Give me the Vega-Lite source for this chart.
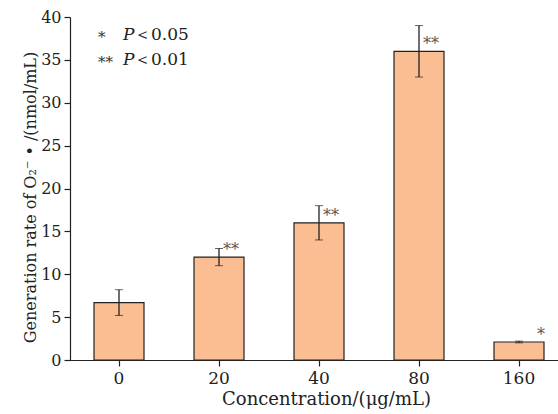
{
  "$schema": "https://vega.github.io/schema/vega-lite/v6.json",
  "autosize": {"type": "none"},
  "padding": {"left": 70, "top": 17, "right": 0, "bottom": 54},
  "width": 488,
  "height": 343,
  "background": "white",
  "config": {
    "view": {"stroke": null},
    "font": "DejaVu Serif",
    "text": {"font": "DejaVu Serif"},
    "axis": {
      "domainColor": "#222",
      "tickColor": "#222",
      "labelColor": "#222",
      "titleColor": "#222",
      "labelFont": "DejaVu Serif",
      "titleFont": "DejaVu Serif",
      "labelFontSize": 16,
      "titleFontSize": 16,
      "titleFontWeight": "normal",
      "grid": false,
      "tickSize": 6,
      "domainWidth": 1.2,
      "tickWidth": 1.2
    }
  },
  "datasets": {
    "bars": [
      {"conc": "0", "rate": 6.7, "sd": 1.5, "sig": ""},
      {"conc": "20", "rate": 12.0, "sd": 1.0, "sig": "**"},
      {"conc": "40", "rate": 16.0, "sd": 2.0, "sig": "**"},
      {"conc": "80", "rate": 36.0, "sd": 3.0, "sig": "**"},
      {"conc": "160", "rate": 2.1, "sd": 0.1, "sig": "*"}
    ],
    "notes": [
      {"conc": "0", "rate": 37.9, "star": "*", "p": "P", "txt": "＜0.05"},
      {"conc": "0", "rate": 35.0, "star": "**", "p": "P", "txt": "＜0.01"}
    ]
  },
  "encoding": {
    "x": {
      "field": "conc",
      "type": "nominal",
      "sort": ["0", "20", "40", "80", "160"],
      "scale": {"range": [-1, 499], "paddingInner": 0.5, "paddingOuter": 0.25},
      "axis": {"title": "Concentration/(μg/mL)", "labelAngle": 0, "labelPadding": 4, "labelFontSize": 17, "titleFontSize": 18, "titlePadding": 4, "titleX": 256}
    },
    "y": {
      "field": "rate",
      "type": "quantitative",
      "title": "Generation rate of O₂⁻ • /(nmol/mL)",
      "scale": {"domain": [0, 40], "nice": false},
      "axis": {"values": [0, 5, 10, 15, 20, 25, 30, 35, 40], "titlePadding": 2, "labelPadding": 3, "titleY": 180}
    }
  },
  "layer": [
    {
      "data": {"name": "bars"},
      "mark": {"type": "bar", "fill": "#FBBE93", "stroke": "#222", "strokeWidth": 1.2}
    },
    {
      "data": {"name": "bars"},
      "mark": {"type": "errorbar", "ticks": {"size": 8, "color": "#222", "strokeWidth": 1.3}, "rule": {"color": "#222", "strokeWidth": 1.3}},
      "encoding": {
        "y": {"field": "rate", "type": "quantitative", "title": "Generation rate of O₂⁻ • /(nmol/mL)"},
        "yError": {"field": "sd"}
      }
    },
    {
      "data": {"name": "bars"},
      "transform": [{"filter": "datum.sig == '**'"}],
      "mark": {"type": "text", "align": "left", "baseline": "middle", "dx": 4, "dy": -7, "fontSize": 16, "fill": "#555555"},
      "encoding": {"text": {"field": "sig"}}
    },
    {
      "data": {"name": "bars"},
      "transform": [{"filter": "datum.sig == '*'"}],
      "mark": {"type": "text", "align": "left", "baseline": "middle", "dx": 18, "dy": -7, "fontSize": 16, "fill": "#555555"},
      "encoding": {"text": {"field": "sig"}}
    },
    {
      "data": {"name": "notes"},
      "mark": {"type": "text", "align": "left", "baseline": "middle", "dx": -21, "dy": 2, "fontSize": 15, "fill": "#333333"},
      "encoding": {"text": {"field": "star"}}
    },
    {
      "data": {"name": "notes"},
      "mark": {"type": "text", "align": "left", "baseline": "middle", "dx": 4, "fontSize": 17, "fontStyle": "italic", "fill": "#222222"},
      "encoding": {"text": {"field": "p"}}
    },
    {
      "data": {"name": "notes"},
      "mark": {"type": "text", "align": "left", "baseline": "middle", "dx": 15, "fontSize": 17, "fill": "#222222"},
      "encoding": {"text": {"field": "txt"}}
    }
  ]
}
